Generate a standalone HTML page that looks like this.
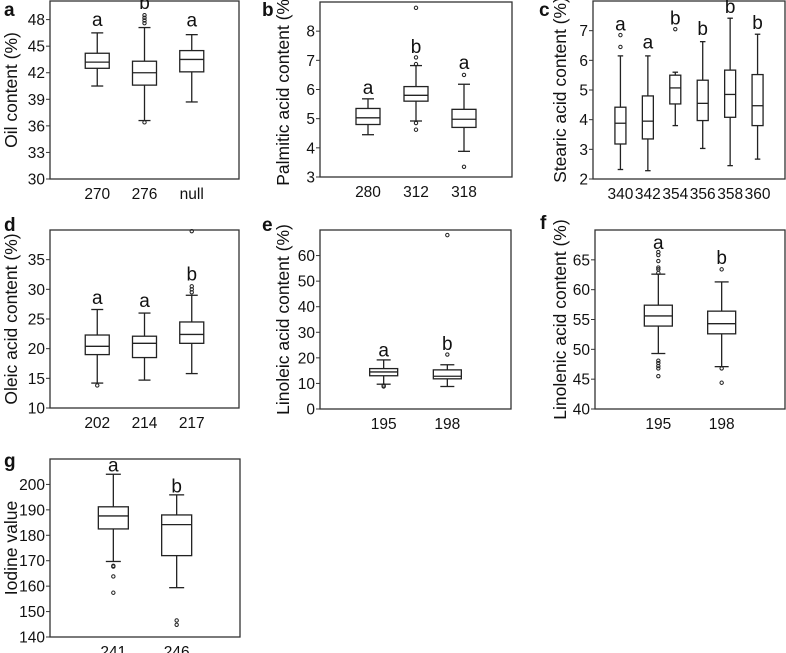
<!DOCTYPE html>
<html><head><meta charset="utf-8">
<style>
html,body{margin:0;padding:0;background:#fff;}
svg{display:block;font-family:"Liberation Sans",Arial,sans-serif;}
</style></head>
<body>
<svg id="fig" width="786" height="653" viewBox="0 0 786 653" xmlns="http://www.w3.org/2000/svg"></svg>
<script>
// ---- data arrays (per panel) ----
const aCats = ["270","276","null"];
const aLow = [40.5,36.6,38.7], aQ1 = [42.5,40.6,42.1], aMed = [43.2,42.0,43.5], aQ3 = [44.2,43.3,44.5], aHigh = [46.5,47.1,46.3];
const aOut = [[],[36.4,47.6,47.9,48.2,48.5],[]];
const aLetters = ["a","b","a"], aLetterY = [47.3,49.2,47.2];
const aTicks = [30,33,36,39,42,45,48];

const bCats = ["280","312","318"];
const bLow = [4.45,4.92,3.88], bQ1 = [4.8,5.6,4.7], bMed = [5.03,5.8,4.98], bQ3 = [5.35,6.1,5.32], bHigh = [5.68,6.82,6.18];
const bOut = [[],[4.62,4.85,6.87,7.1,8.8],[3.35,6.5]];
const bLetters = ["a","b","a"], bLetterY = [5.85,7.25,6.7];
const bTicks = [3,4,5,6,7,8];

const cCats = ["340","342","354","356","358","360"];
const cLow = [2.32,2.28,3.8,3.03,2.45,2.67], cQ1 = [3.18,3.35,4.53,3.97,4.08,3.8], cMed = [3.88,3.95,5.07,4.55,4.85,4.47], cQ3 = [4.42,4.8,5.5,5.33,5.67,5.52], cHigh = [6.15,6.15,5.6,6.63,7.42,6.88];
const cOut = [[6.45,6.85],[],[7.05],[],[],[]];
const cLetters = ["a","a","b","b","b","b"], cLetterY = [7.0,6.4,7.2,6.85,7.6,7.05];
const cTicks = [2,3,4,5,6,7];

const dCats = ["202","214","217"];
const dLow = [14.2,14.7,15.8], dQ1 = [19.0,18.5,20.9], dMed = [20.4,20.9,22.4], dQ3 = [22.3,22.1,24.5], dHigh = [26.6,26.0,29.0];
const dOut = [[13.8],[],[29.5,30.0,30.5,39.8]];
const dLetters = ["a","a","b"], dLetterY = [27.5,27.0,31.5];
const dTicks = [10,15,20,25,30,35];

const eCats = ["195","198"];
const eLow = [9.7,8.8], eQ1 = [13.0,11.8], eMed = [14.5,12.8], eQ3 = [15.8,15.3], eHigh = [19.2,17.3];
const eOut = [[8.8,9.2],[21.3,68]];
const eLetters = ["a","b"], eLetterY = [20.5,23.0];
const eTicks = [0,10,20,30,40,50,60];

const fCats = ["195","198"];
const fLow = [49.3,47.1], fQ1 = [53.9,52.6], fMed = [55.6,54.3], fQ3 = [57.4,56.4], fHigh = [62.6,61.3];
const fOut = [[45.5,46.8,47.2,47.7,48.1,62.8,63.4,63.7,64.8,65.8,66.3],[44.4,46.8,63.4]];
const fLetters = ["a","b"], fLetterY = [66.8,64.3];
const fTicks = [40,45,50,55,60,65];

const gCats = ["241","246"];
const gLow = [169.7,159.4], gQ1 = [182.5,172.0], gMed = [187.6,184.2], gQ3 = [191.2,188.0], gHigh = [204.0,195.9];
const gOut = [[168.0,167.7,163.8,157.4],[146.5,144.8]];
const gLetters = ["a","b"], gLetterY = [205.0,196.8];
const gTicks = [140,150,160,170,180,190,200];

const NS = "http://www.w3.org/2000/svg";
const svg = document.getElementById("fig");
function mk(tag, attrs, parent){
  const e = document.createElementNS(NS, tag);
  for (const k in attrs) e.setAttribute(k, attrs[k]);
  (parent||svg).appendChild(e);
  return e;
}

function panel(cfg){
  const g = mk("g", {});
  
  
  const {L,R,T,B,ymin,ymax} = cfg;
  const y = v => B - (v - ymin) / (ymax - ymin) * (B - T);
  const n = cfg.cats.length;
  const step = (R - L) / (n + 1);
  const x = i => L + (i + 1) * step;
  const bw = cfg.bw;

  const fr = mk("rect", {x:L, y:T, width:R-L, height:B-T, fill:"none", stroke:"#333", "stroke-width":1.3}, g);
  
  

  const pl = mk("text", {x:cfg.plx, y:cfg.ply, "font-size":19, "font-weight":"bold", fill:"#111"}, g);
  pl.textContent = cfg.id;
  
  

  const yl = mk("text", {x:0, y:0, "font-size":17.5, fill:"#111", "text-anchor":"middle",
    transform:`translate(${cfg.ylx},${(T+B)/2}) rotate(-90)`}, g);
  yl.textContent = cfg.ylabel;
  
  

  cfg.ticks.forEach(t => {
    const tk = mk("line", {x1:L-4, x2:L, y1:y(t), y2:y(t), stroke:"#333", "stroke-width":1}, g);
    
    
    const tl = mk("text", {x:L-5, y:y(t)+5.5, "font-size":15.5, fill:"#111", "text-anchor":"end"}, g);
    tl.textContent = t;
    
    
  });

  cfg.cats.forEach((c, i) => {
    const cx = x(i);
    const xl = mk("text", {x:cx, y:B+20, "font-size":15.5, fill:"#111", "text-anchor":"middle"}, g);
    xl.textContent = c;
    
    

    const bg = mk("g", {stroke:"#222", "stroke-width":1.3, fill:"none"}, g);
    
    
    mk("line", {x1:cx, x2:cx, y1:y(cfg.high[i]), y2:y(cfg.q3[i])}, bg);
    mk("line", {x1:cx, x2:cx, y1:y(cfg.q1[i]), y2:y(cfg.low[i])}, bg);
    mk("line", {x1:cx-bw/4, x2:cx+bw/4, y1:y(cfg.high[i]), y2:y(cfg.high[i])}, bg);
    mk("line", {x1:cx-bw/4, x2:cx+bw/4, y1:y(cfg.low[i]), y2:y(cfg.low[i])}, bg);
    mk("rect", {x:cx-bw/2, y:y(cfg.q3[i]), width:bw, height:y(cfg.q1[i])-y(cfg.q3[i]), fill:"#fff"}, bg);
    mk("line", {x1:cx-bw/2, x2:cx+bw/2, y1:y(cfg.med[i]), y2:y(cfg.med[i])}, bg);
    cfg.out[i].forEach(o => {
      const p = mk("circle", {cx:cx, cy:y(o), r:1.7, "stroke-width":1}, bg);
      
      
    });
    const lt = mk("text", {x:cx, y:y(cfg.letterY[i]), "font-size":19, fill:"#111", "text-anchor":"middle"}, g);
    lt.textContent = cfg.letters[i];
    
    
  });
}

panel({id:"a", L:50, R:239, T:1, B:179, ymin:30, ymax:50.1, bw:24, plx:4, ply:16, ylx:17, ylabel:"Oil content (%)",
  cats:aCats, low:aLow, q1:aQ1, med:aMed, q3:aQ3, high:aHigh, out:aOut, letters:aLetters, letterY:aLetterY, ticks:aTicks});
panel({id:"b", L:320, R:512, T:2, B:177, ymin:3, ymax:9, bw:24, plx:262, ply:16, ylx:289, ylabel:"Palmitic acid content (%)",
  cats:bCats, low:bLow, q1:bQ1, med:bMed, q3:bQ3, high:bHigh, out:bOut, letters:bLetters, letterY:bLetterY, ticks:bTicks});
panel({id:"c", L:593, R:785, T:1, B:179, ymin:2, ymax:8, bw:11, plx:539, ply:16, ylx:566, ylabel:"Stearic acid content (%)",
  cats:cCats, low:cLow, q1:cQ1, med:cMed, q3:cQ3, high:cHigh, out:cOut, letters:cLetters, letterY:cLetterY, ticks:cTicks});
panel({id:"d", L:50, R:239, T:230, B:408, ymin:10, ymax:40, bw:24, plx:4, ply:231, ylx:17, ylabel:"Oleic acid content (%)",
  cats:dCats, low:dLow, q1:dQ1, med:dMed, q3:dQ3, high:dHigh, out:dOut, letters:dLetters, letterY:dLetterY, ticks:dTicks});
panel({id:"e", L:320, R:511, T:230, B:409, ymin:0, ymax:70, bw:28, plx:262, ply:231, ylx:289, ylabel:"Linoleic acid content (%)",
  cats:eCats, low:eLow, q1:eQ1, med:eMed, q3:eQ3, high:eHigh, out:eOut, letters:eLetters, letterY:eLetterY, ticks:eTicks});
panel({id:"f", L:595, R:785, T:230, B:409, ymin:40, ymax:70, bw:28, plx:540, ply:229, ylx:566, ylabel:"Linolenic acid content (%)",
  cats:fCats, low:fLow, q1:fQ1, med:fMed, q3:fQ3, high:fHigh, out:fOut, letters:fLetters, letterY:fLetterY, ticks:fTicks});
panel({id:"g", L:50, R:240, T:459, B:637, ymin:140, ymax:210, bw:30, plx:4, ply:467, ylx:17, ylabel:"Iodine value",
  cats:gCats, low:gLow, q1:gQ1, med:gMed, q3:gQ3, high:gHigh, out:gOut, letters:gLetters, letterY:gLetterY, ticks:gTicks});
</script>
</body></html>
